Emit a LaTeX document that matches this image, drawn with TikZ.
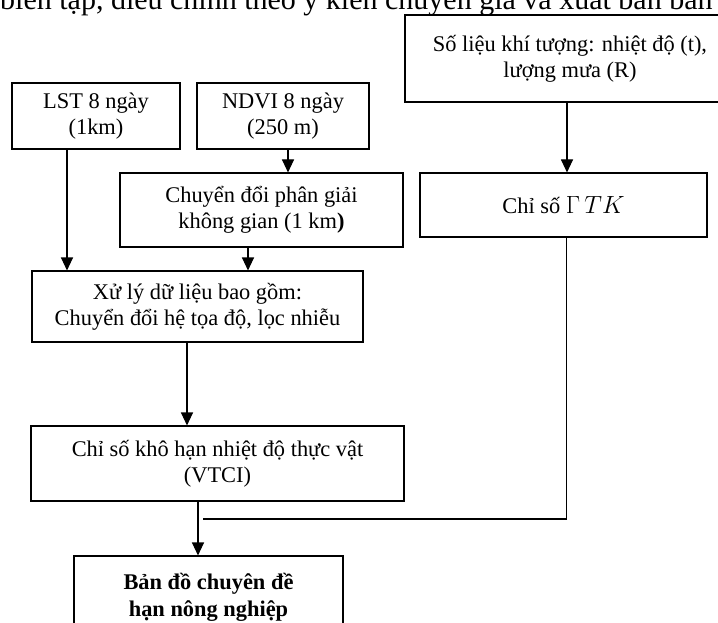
\documentclass[tikz,border=0pt]{standalone}
\usepackage{fontspec}
\setmainfont{Liberation Serif}
\usetikzlibrary{arrows.meta, calc}

\begin{document}
\begin{tikzpicture}[x=1pt, y=-1pt,
    box/.style={draw, rectangle, line width=1.1pt, inner sep=0pt, align=center,
                font=\fontsize{22.4}{26}\selectfont},
    arr/.style={-{Triangle[length=13pt, width=12pt]}, line width=1.1pt},
    wire/.style={line width=1.1pt}]
    \clip (0,0) rectangle (718,623);
    \node[anchor=base west, inner sep=0pt, font=\fontsize{30}{34}\selectfont]
        (cap)  at (0,10)        {biên tập, điều chỉnh theo ý kiến chuyên gia và xuất bản bản};
    \node[box, minimum width=330pt, minimum height=87pt] (met)  at (570,58.5)  {Số liệu khí tượng: nhiệt độ (t),\\lượng mưa (R)};
    \node[box, minimum width=168pt, minimum height=66pt] (lst)  at (96,116)    {LST 8 ngày\\(1km)};
    \node[box, minimum width=172pt, minimum height=66pt] (ndvi) at (283,116)   {NDVI 8 ngày\\(250 m)};
    \node[box, minimum width=283pt, minimum height=74pt] (res)  at (261.5,210) {Chuyển đổi phân giải\\không gian (1 km\textbf{)}};
    \node[box, minimum width=287pt, minimum height=64pt] (gtk)  at (563.5,205) {Chỉ số {\fontsize{29}{30}\selectfont$\Gamma\,TK$}};
    \node[box, minimum width=331pt, minimum height=71pt] (proc) at (197.5,306.5) {Xử lý dữ liệu bao gồm:\\Chuyển đổi hệ tọa độ, lọc nhiễu};
    \node[box, minimum width=373pt, minimum height=75pt] (vtci) at (217.5,463.5) {Chỉ số khô hạn nhiệt độ thực vật\\(VTCI)};
    \node[box, minimum width=269pt, minimum height=82pt, font=\fontsize{22.4}{27}\selectfont\bfseries]
        (map)  at (208.5,597)   {Bản đồ chuyên đề\\hạn nông nghiệp};
    \coordinate (join) at (203,519);

    \draw[arr] ($(lst.south)+(-29,0)$)   coordinate (a) -- (a |- proc.north);
    \draw[arr] ($(ndvi.south)+(5,0)$)    coordinate (b) -- (b |- res.north);
    \draw[arr] ($(res.south)+(-13.5,0)$) coordinate (c) -- (c |- proc.north);
    \draw[arr] ($(met.south)+(-3,0)$)    coordinate (d) -- (d |- gtk.north);
    \draw[arr] ($(proc.south)+(-10.5,0)$) coordinate (e) -- (e |- vtci.north);
    \draw[arr] ($(vtci.south)+(-19.5,0)$) coordinate (f) -- (f |- map.north);
    \draw[wire] ($(gtk.south)+(3,0)$) |- (join);
\end{tikzpicture}
\end{document}
